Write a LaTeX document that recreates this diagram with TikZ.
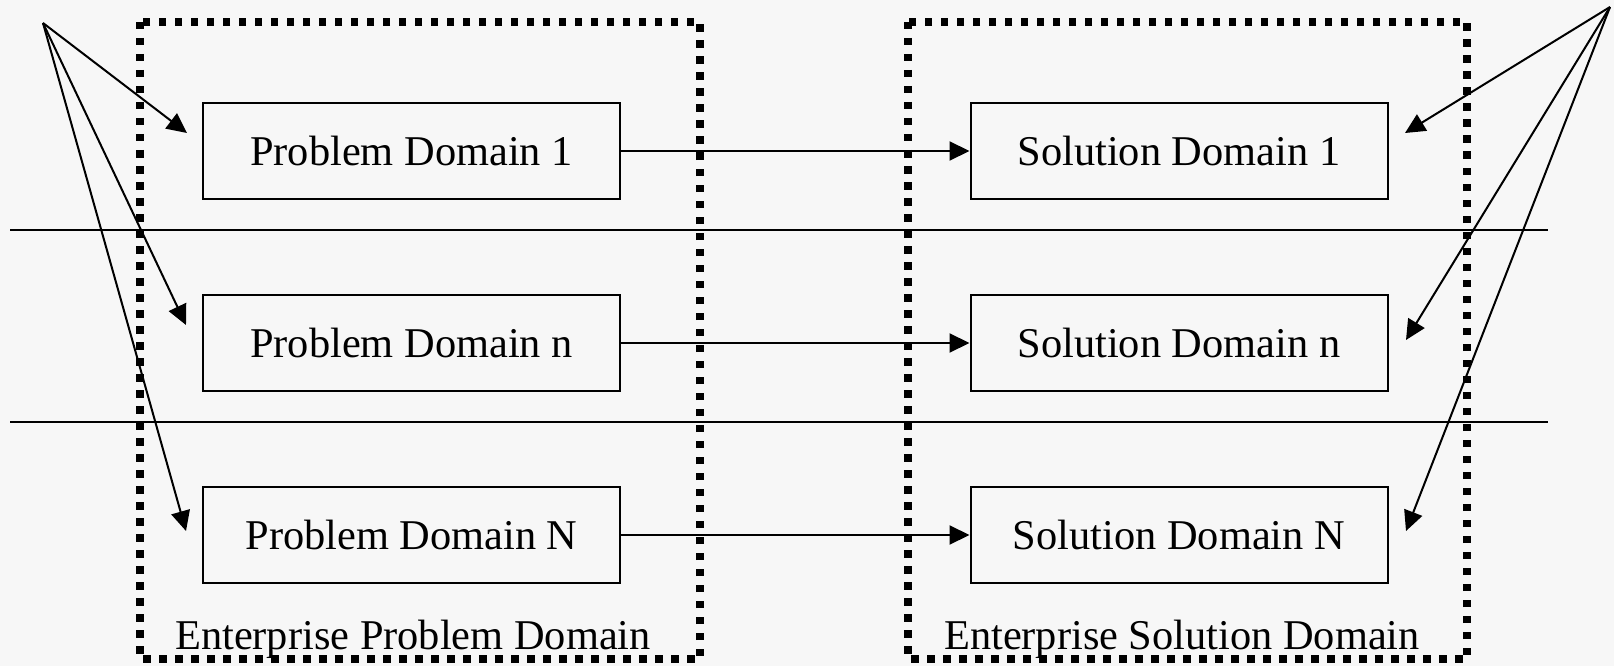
\documentclass[tikz,border=0pt]{standalone}
\usepackage{fontspec}
\setmainfont{Liberation Serif}
\usetikzlibrary{arrows.meta}
\definecolor{bg}{HTML}{F7F7F7}
\tikzset{
  domainbox/.style={draw=black, line width=2pt, fill=bg, minimum width=417pt, minimum height=96pt,
    inner sep=0pt, font=\fontsize{42.4}{50}\selectfont},
  dotframe/.style={draw=black, line width=7.5pt, dash pattern=on 7.5pt off 8.5pt},
  link/.style={draw=black, line width=2pt, -{Triangle[length=20pt,width=19pt]}},
  divider/.style={draw=black, line width=1.6pt},
  caption/.style={font=\fontsize{42.4}{50}\selectfont, inner sep=0pt, anchor=base}
}
\begin{document}
\begin{tikzpicture}[x=1pt,y=-1pt]
\fill[bg] (0,0) rectangle (1614,666);
\useasboundingbox (0,0) rectangle (1614,666);

% separators between the domain rows
\draw[divider] (10,230) -- (1548,230);
\draw[divider] (10,422) -- (1548,422);

% enterprise frames
\draw[dotframe] (140,22) rectangle (700,659);
\draw[dotframe] (908,22) rectangle (1467,659);

% domain boxes
\node[domainbox] (p1) at (411.5,151) {Problem Domain 1};
\node[domainbox] (pn) at (411.5,343) {Problem Domain n};
\node[domainbox] (pN) at (411.5,535) {Problem Domain N};
\node[domainbox] (s1) at (1179,151) {Solution Domain 1};
\node[domainbox] (sn) at (1179,343) {Solution Domain n};
\node[domainbox] (sN) at (1179,535) {Solution Domain N};

% frame captions
\node[caption] (ep) at (413,649) {Enterprise Problem Domain};
\node[caption] (es) at (1182,649) {Enterprise Solution Domain};

% mappings problem -> solution
\draw[link] (p1.east) -- (s1.west);
\draw[link] (pn.east) -- (sn.west);
\draw[link] (pN.east) -- (sN.west);

% fan-out pointers
\coordinate (lsrc) at (43,23);
\coordinate (rsrc) at (1610,7);
\coordinate (lt1) at (187,133);
\coordinate (ltn) at (186,325);
\coordinate (ltN) at (186,531);
\coordinate (rt1) at (1405,133);
\coordinate (rtn) at (1406,340);
\coordinate (rtN) at (1406,531);
\draw[link] (lsrc) -- (lt1);
\draw[link] (lsrc) -- (ltn);
\draw[link] (lsrc) -- (ltN);
\draw[link] (rsrc) -- (rt1);
\draw[link] (rsrc) -- (rtn);
\draw[link] (rsrc) -- (rtN);
\end{tikzpicture}
\end{document}
